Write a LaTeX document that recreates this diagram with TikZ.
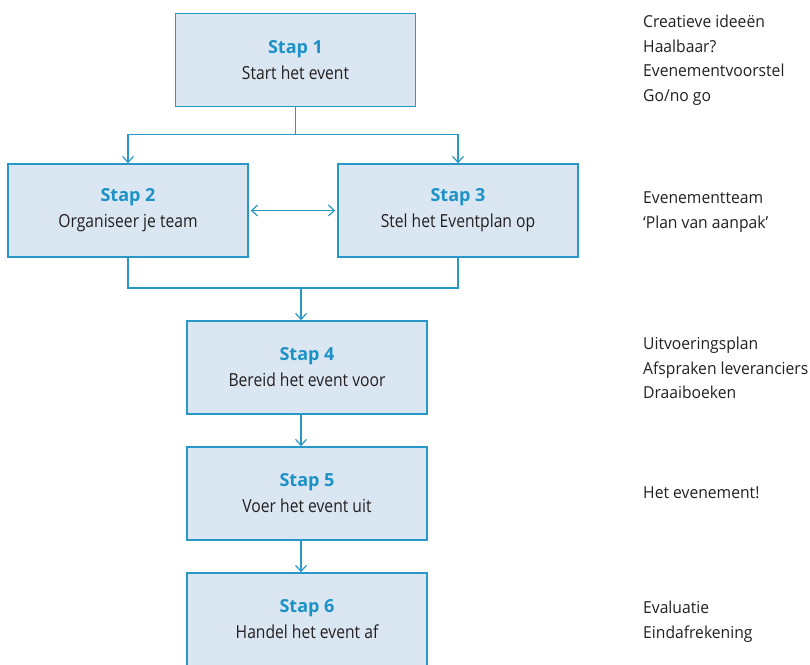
\documentclass[tikz,border=0pt]{standalone}
\usepackage{fontspec}
\setmainfont{Open Sans}
\newfontfamily\boxfont[FakeStretch=0.87]{Open Sans}
\newfontfamily\titlefont{Open Sans}
\newfontfamily\notefont[FakeStretch=0.95]{Open Sans}
\usetikzlibrary{arrows.meta,calc}
\definecolor{edgeblue}{RGB}{41,151,200}
\definecolor{boxfill}{RGB}{218,230,241}
\definecolor{titleblue}{RGB}{28,146,198}
\definecolor{ink}{RGB}{35,31,32}
\tikzset{
  stepbox/.style={draw=edgeblue, fill=boxfill, line width=1.6pt,
    minimum width=240pt, minimum height=93pt, inner sep=0pt,
    align=center, text=ink,
    font=\boxfont\fontsize{18}{26}\selectfont},
  note/.style={anchor=north west, align=left, inner sep=0pt, text=ink,
    font=\notefont\fontsize{16.5}{24.6}\selectfont},
  link/.style={draw=edgeblue, line width=1.2pt},
  flow/.style={link, -{Straight Barb[length=6pt,width=11pt,line width=1.2pt]}},
  both/.style={link, {Straight Barb[length=6pt,width=11pt,line width=1.2pt]}-{Straight Barb[length=6pt,width=11pt,line width=1.2pt]}}
}
\newcommand{\steptitle}[1]{{\titlefont\bfseries\color{titleblue}#1}}
\begin{document}
\begin{tikzpicture}[x=1pt,y=-1pt]
\useasboundingbox (0,0) rectangle (810,664);
\clip (0,0) rectangle (810,664);
% process steps
\node[stepbox] (s1) at (295.5,60)  {\steptitle{Stap 1}\\Start het event};
\node[stepbox] (s2) at (128,210.5) {\steptitle{Stap 2}\\Organiseer je team};
\node[stepbox] (s3) at (458,210.5) {\steptitle{Stap 3}\\Stel het Eventplan op};
\node[stepbox] (s4) at (307,367.5) {\steptitle{Stap 4}\\Bereid het event voor};
\node[stepbox] (s5) at (307,493.5) {\steptitle{Stap 5}\\Voer het event uit};
\node[stepbox] (s6) at (307,619.5) {\steptitle{Stap 6}\\Handel het event af};
% results per step
\node[note] (n1) at (643,15)  {Creatieve ideeën\\Haalbaar?\\Evenementvoorstel\\Go/no go};
\node[note] (n2) at (643,192) {Evenementteam\\‘Plan van aanpak’};
\node[note] (n3) at (643,337) {Uitvoeringsplan\\Afspraken leveranciers\\Draaiboeken};
\node[note] (n4) at (643,487) {Het evenement!};
\node[note] (n5) at (643,601) {Evaluatie\\Eindafrekening};
% split after step 1
\coordinate (split) at ($(s1.south)+(0,27)$);
\draw[link] (s1.south) -- (split);
\draw[flow] (split) -| (s2.north);
\draw[flow] (split) -| (s3.north);
% steps 2 and 3 interact
\draw[both, shorten <=2pt, shorten >=2pt] (s2.east) -- (s3.west);
% merge into step 4
\coordinate (merge) at (301,288);
\draw[link] (s2.south) |- (merge);
\draw[link] (s3.south) |- (merge);
\draw[flow] (merge) -- (merge |- s4.north);
\draw[flow] (s4.south -| merge) -- (s5.north -| merge);
\draw[flow] (s5.south -| merge) -- (s6.north -| merge);
\end{tikzpicture}
\end{document}
